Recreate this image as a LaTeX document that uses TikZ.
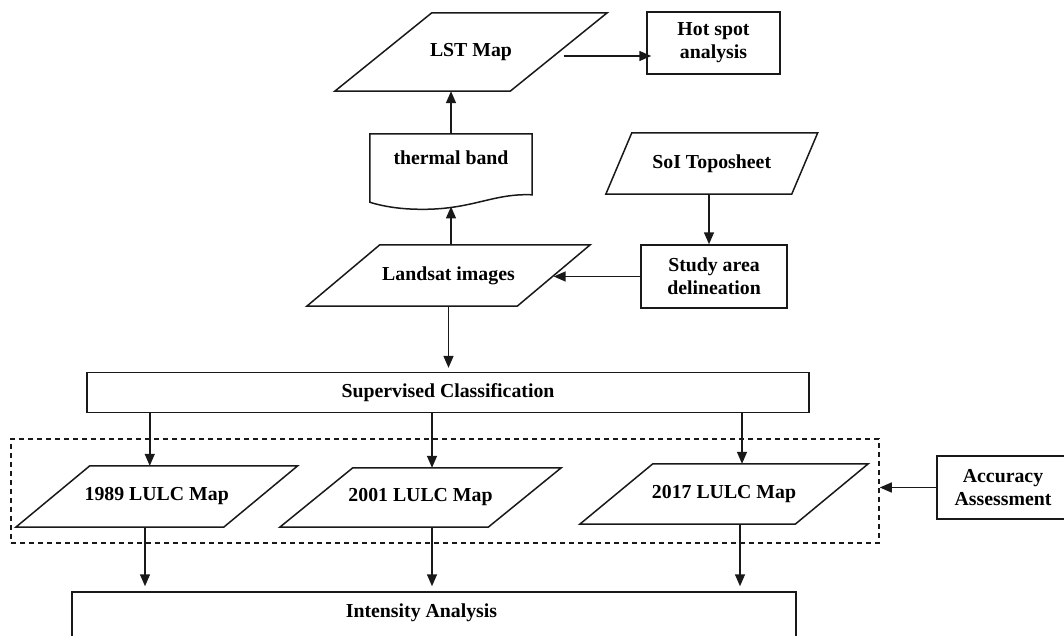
\documentclass[tikz,border=0pt]{standalone}
\usepackage{fontspec}
\setmainfont{Liberation Serif}
\usetikzlibrary{calc,arrows.meta}
\tikzset{
  line/.style={draw=black!90, line width=1.5pt},
  arr/.style={draw=black!90, line width=1.5pt, -{Triangle[length=12pt,width=10pt]}},
  dashline/.style={draw=black!90, line width=1.5pt, dash pattern=on 5pt off 4pt},
  box/.style={line, rectangle, align=center, inner sep=0pt},
  para/.style={rectangle, align=center, inner sep=0pt},
  lbl/.style={font=\fontsize{19.8}{23}\selectfont\bfseries}
}

\begin{document}
\begin{tikzpicture}[x=1pt, y=-1pt, every node/.style={lbl}]
  \useasboundingbox (0,0) rectangle (1064,636);

  % upper part
  \node[para, minimum width=175, minimum height=78] (lst) at (471,52) {LST Map};
  \node[box, minimum width=133, minimum height=62] (hotspot) at (713.5,43) {Hot spot\\analysis};
  \node[para, minimum width=162, minimum height=68, text depth=20pt] (thermal) at (451,168) {thermal band};
  \node[para, minimum width=185.5, minimum height=61] (soi) at (711.75,163.5) {SoI Toposheet};
  \node[para, minimum width=210, minimum height=61] (landsat) at (448.5,275.5) {Landsat images};
  \node[box, minimum width=146, minimum height=63] (study) at (714,276.5) {Study area\\delineation};

  % classification and maps
  \node[box, minimum width=722, minimum height=40] (superv) at (448,392.6) {Supervised Classification};
  \node[dashline, rectangle, minimum width=868, minimum height=104] (frame) at (445,491) {};
  \node[para, minimum width=207.5, minimum height=61] (map89) at (156.75,496.5) {1989 LULC Map};
  \node[para, minimum width=208, minimum height=59] (map01) at (420.5,497.5) {2001 LULC Map};
  \node[para, minimum width=215, minimum height=60] (map17) at (724,494) {2017 LULC Map};
  \node[box, minimum width=132, minimum height=63] (accuracy) at (1003,487.5) {Accuracy\\Assessment};
  \node[box, minimum width=724, minimum height=68,
        label={[xshift=-12.5pt, yshift=13pt]center:Intensity Analysis}] (intensity) at (434,626) {};

  % parallelogram outlines
  \foreach \n/\s in {lst/48.5, landsat/36.5, soi/13, map89/37, map01/36.5, map17/36.5}
    \draw[line] ($(\n.north west)+(\s,0)$) -- ($(\n.north east)+(\s,0)$)
      -- ($(\n.south east)-(\s,0)$) -- ($(\n.south west)-(\s,0)$) -- cycle;

  % document outline
  \draw[line] (thermal.south west) -- (thermal.north west) -- (thermal.north east)
    -- ($(thermal.north east)+(0,61)$) .. controls (490,193) and (470,212) .. (410,209)
    .. controls (390,208) and (375,204) .. (thermal.south west) -- cycle;
  \coordinate (wave) at (451,206.5);

  % arrows
  \draw[arr] (thermal.north) -- (thermal.north |- lst.south);
  \draw[arr] (landsat.north -| wave) -- (wave);
  \draw[arr] ([xshift=5pt,yshift=-4pt]lst.east) -- ([xshift=5pt,yshift=-4pt]lst.east -| hotspot.west);
  \draw[arr] ([xshift=-5pt]study.north |- soi.south) -- ([xshift=-5pt]study.north);
  \draw[arr] (study.west) -- (study.west -| landsat.east);
  \draw[arr, shorten >=4pt] (landsat.south) -- (landsat.south |- superv.north);
  \foreach \m/\d in {map89/-7, map01/11.5, map17/18}
    \draw[arr] ([xshift=\d pt]\m.north |- superv.south) -- ([xshift=\d pt]\m.north);
  \foreach \m/\d in {map89/-11.75, map01/11.5, map17/16}
    \draw[arr, shorten >=5pt] ([xshift=\d pt]\m.south) -- ([xshift=\d pt]\m.south |- intensity.north);
  \draw[arr] (accuracy.west) -- (accuracy.west -| frame.east);
\end{tikzpicture}
\end{document}
